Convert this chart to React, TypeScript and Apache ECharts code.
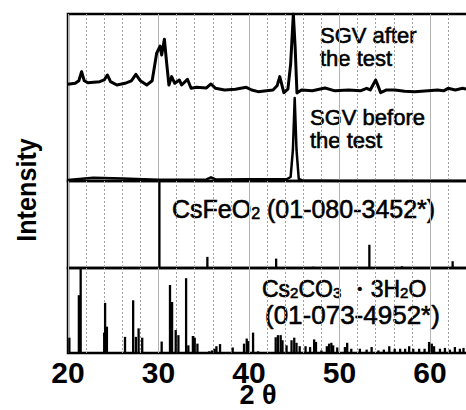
import React, { useEffect, useRef } from 'react';
import * as echarts from 'echarts';

// 2θ (deg), intensity (a.u., panel-relative %)
const afterTest: [number, number][] = [
  [20, 58.0], [20.8, 58.5], [21.2, 60], [21.5, 65.4], [21.8, 60], [22.2, 58.8], [23.5, 59.5],
  [24.0, 60.5], [24.35, 63.5], [24.7, 59.5], [25.4, 57.5], [26.3, 58.5], [27.0, 60], [27.5, 63.9],
  [28.0, 60], [28.7, 57.5], [29.3, 60], [29.8, 76.6], [30.17, 80.8], [30.35, 75.4], [30.65, 84.9],
  [30.9, 70.7], [31.15, 57.5], [31.45, 62.5], [31.8, 58.5], [32.3, 60.5], [32.55, 57.5], [33.2, 60.9],
  [33.6, 55.5], [34.2, 56.1], [35.3, 55.7], [35.8, 58.1], [36.3, 55.5], [37.3, 54.5], [38.5, 55.0],
  [39.7, 56.1], [40.3, 54.5], [41.0, 53.5], [42.65, 54.5], [43.1, 57], [43.4, 62.5], [43.85, 52.9],
  [44.3, 55], [44.6, 70], [44.9, 100], [45.1, 80], [45.3, 52.7], [45.8, 54.5], [47.0, 54.0],
  [48.4, 55.7], [49.5, 54], [51.0, 54.5], [52.3, 54.0], [53.0, 55.5], [53.4, 54.5], [54.0, 60.5],
  [54.55, 52.9], [55.2, 54.5], [56.1, 54.5], [57.2, 53.8], [58.3, 53.5], [59.8, 54.1], [60.8, 54.5],
  [61.5, 54], [62.0, 55.5], [62.8, 54.5], [63.6, 55.5], [64.5, 54.5],
];

const beforeTest: [number, number][] = [
  [20, 0.6], [22.8, 2.0], [26.0, 1.5], [30.0, 0.8], [35.3, 0.9], [35.8, 2.2], [36.3, 0.9],
  [40.0, 1.0], [44.2, 1.2], [44.6, 2.4], [44.85, 18.6], [45.05, 49.7], [45.25, 18.6], [45.5, 1.2],
  [45.9, 0.3], [50.0, 0], [64.5, 0],
];

const csFeO2: [number, number][] = [
  [30.1, 100], [35.4, 12.8], [37.0, 1], [43.0, 10.8], [47.1, 1.5], [53.3, 26.7], [56.9, 2], [62.5, 7.8],
];

const cs2co3: [number, number][] = [
  [20.15, 18], [21.2, 68], [21.4, 100], [24.0, 24], [24.1, 59], [24.3, 31], [26.3, 19], [27.2, 62],
  [27.5, 19], [27.8, 29], [28.2, 18], [30.35, 13.5], [31.27, 80], [31.5, 60], [31.9, 27], [32.2, 21],
  [33.05, 88], [33.3, 9], [33.8, 20], [34.0, 18], [34.3, 11], [35.6, 2], [35.9, 3], [36.2, 5],
  [36.4, 8], [36.8, 10.5], [38.2, 6.5], [39.45, 11], [39.75, 17], [39.9, 14], [40.45, 24], [41.0, 2],
  [42.95, 18.5], [43.2, 21], [43.5, 21], [43.7, 15], [44.15, 9], [44.7, 15], [45.0, 18], [45.25, 12],
  [45.6, 8], [46.25, 8], [46.75, 7], [47.2, 16], [47.4, 13], [48.0, 3], [48.6, 8], [48.85, 11],
  [49.1, 12], [49.3, 9], [49.75, 6.5], [50.6, 7], [50.85, 12], [51.3, 5], [52.25, 5], [53.0, 4],
  [53.55, 7], [54.3, 3], [54.9, 4], [55.5, 8], [56.1, 5], [56.7, 5], [57.25, 5], [57.7, 8],
  [58.15, 5], [58.8, 5], [59.4, 5], [59.9, 13], [60.2, 11], [60.45, 8], [61.1, 5], [61.65, 6],
  [62.2, 4], [62.75, 7], [63.3, 5], [63.7, 6],
];

const xTickLabels = [20, 30, 40, 50, 60];

const FONT = '"Liberation Sans", Arial, sans-serif';

export default function App() {
  const ref = useRef<HTMLDivElement>(null);
  useEffect(() => {
    document.body.style.margin = '0';
    const chart = echarts.init(ref.current!, null, { renderer: 'svg' });

    const left = 68;
    const width = 452.5;
    const grids = [
      { left, width, top: 14, height: 167 },
      { left, width, top: 181, height: 87 },
      { left, width, top: 268, height: 85 },
    ].map((g) => ({
      ...g,
      show: true,
      outerBoundsMode: 'none',
      containLabel: false,
      borderColor: '#000',
      borderWidth: 2.5,
      backgroundColor: 'transparent',
    }));

    const xAxes = [0, 1, 2].map((i) => ({
      type: 'value',
      gridIndex: i,
      min: 20,
      max: 70,
      interval: 10,
      axisLine: { show: false },
      axisTick: { show: false },
      axisLabel: {
        show: i === 2,
        margin: 8,
        fontFamily: FONT,
        fontSize: 30,
        lineHeight: 22,
        fontWeight: 'bold',
        color: '#000',
        formatter: (v: number) => (xTickLabels.includes(v) ? String(v) : ''),
      },
      splitLine: { show: true, lineStyle: { color: '#b4b4b4', width: 1 } },
      minorTick: { show: false, splitNumber: 5 },
      minorSplitLine: { show: true, lineStyle: { color: '#a0a0a0', width: 1, type: [2, 2] } },
    }));

    const yAxes = [0, 1, 2].map((i) => ({
      type: 'value',
      gridIndex: i,
      min: 0,
      max: 100,
      show: false,
      splitLine: { show: false },
    }));

    const stick = (data: [number, number][], idx: number) => ({
      type: 'custom',
      xAxisIndex: idx,
      yAxisIndex: idx,
      data,
      encode: { x: 0, y: 1 },
      clip: true,
      renderItem: (_p: any, api: any) => {
        const x = api.value(0);
        const y = api.value(1);
        const p0 = api.coord([x, 0]);
        const p1 = api.coord([x, y]);
        return {
          type: 'line',
          shape: { x1: p0[0], y1: p0[1], x2: p1[0], y2: p1[1] },
          style: { stroke: '#000', lineWidth: 2.3 },
        };
      },
    });

    const thick = { stroke: '#000', lineWidth: 0.6 };

    const option: any = {
      animation: false,
      grid: grids,
      xAxis: xAxes,
      yAxis: yAxes,
      series: [
        {
          type: 'line',
          xAxisIndex: 0,
          yAxisIndex: 0,
          data: afterTest,
          showSymbol: false,
          clip: true,
          lineStyle: { color: '#000', width: 3, join: 'round' },
        },
        {
          type: 'line',
          xAxisIndex: 0,
          yAxisIndex: 0,
          data: beforeTest,
          showSymbol: false,
          clip: true,
          lineStyle: { color: '#000', width: 2.5, join: 'round' },
        },
        stick(csFeO2, 1),
        stick(cs2co3, 2),
      ],
      graphic: [
        { type: 'text', x: 320, y: 24, style: { text: 'SGV after\nthe test', font: `22px ${FONT}`, fill: '#000', lineHeight: 23, ...thick } },
        { type: 'text', x: 310, y: 106, style: { text: 'SGV before\nthe test', font: `22px ${FONT}`, fill: '#000', lineHeight: 23, ...thick } },
        {
          type: 'text',
          x: 172,
          y: 194,
          style: {
            text: '{a|CsFeO}{s|2}{a| (01-080-3452*)}',
            fill: '#000',
            ...thick,
            rich: {
              a: { fontFamily: FONT, fontSize: 25, lineHeight: 27, verticalAlign: 'bottom' },
              s: { fontFamily: FONT, fontSize: 16, lineHeight: 16, verticalAlign: 'bottom' },
            },
          },
        },
        {
          type: 'text',
          x: 262,
          y: 276,
          style: {
            text: '{a|Cs}{s|2}{a|CO}{s|3}{a| ・3H}{s|2}{a|O}',
            fill: '#000',
            ...thick,
            rich: {
              a: { fontFamily: FONT, fontSize: 23, lineHeight: 24, verticalAlign: 'bottom' },
              s: { fontFamily: FONT, fontSize: 15, lineHeight: 15, verticalAlign: 'bottom' },
            },
          },
        },
        { type: 'text', x: 265, y: 302, style: { text: '(01-073-4952*)', font: `26px ${FONT}`, lineHeight: 26, fill: '#000', ...thick } },
        {
          type: 'text',
          x: 258,
          y: 395,
          style: { text: '2 θ', font: `bold 27px ${FONT}`, lineHeight: 24, fill: '#000', align: 'center', verticalAlign: 'middle' },
        },
        {
          type: 'text',
          x: 27,
          y: 190,
          rotation: Math.PI / 2,
          scaleX: 0.9,
          style: { text: 'Intensity', font: `bold 28px ${FONT}`, fill: '#000', align: 'center', verticalAlign: 'middle' },
        },
      ],
    };

    chart.setOption(option);
    return () => chart.dispose();
  }, []);
  return <div ref={ref} style={{ width: 466, height: 410 }} />;
}
